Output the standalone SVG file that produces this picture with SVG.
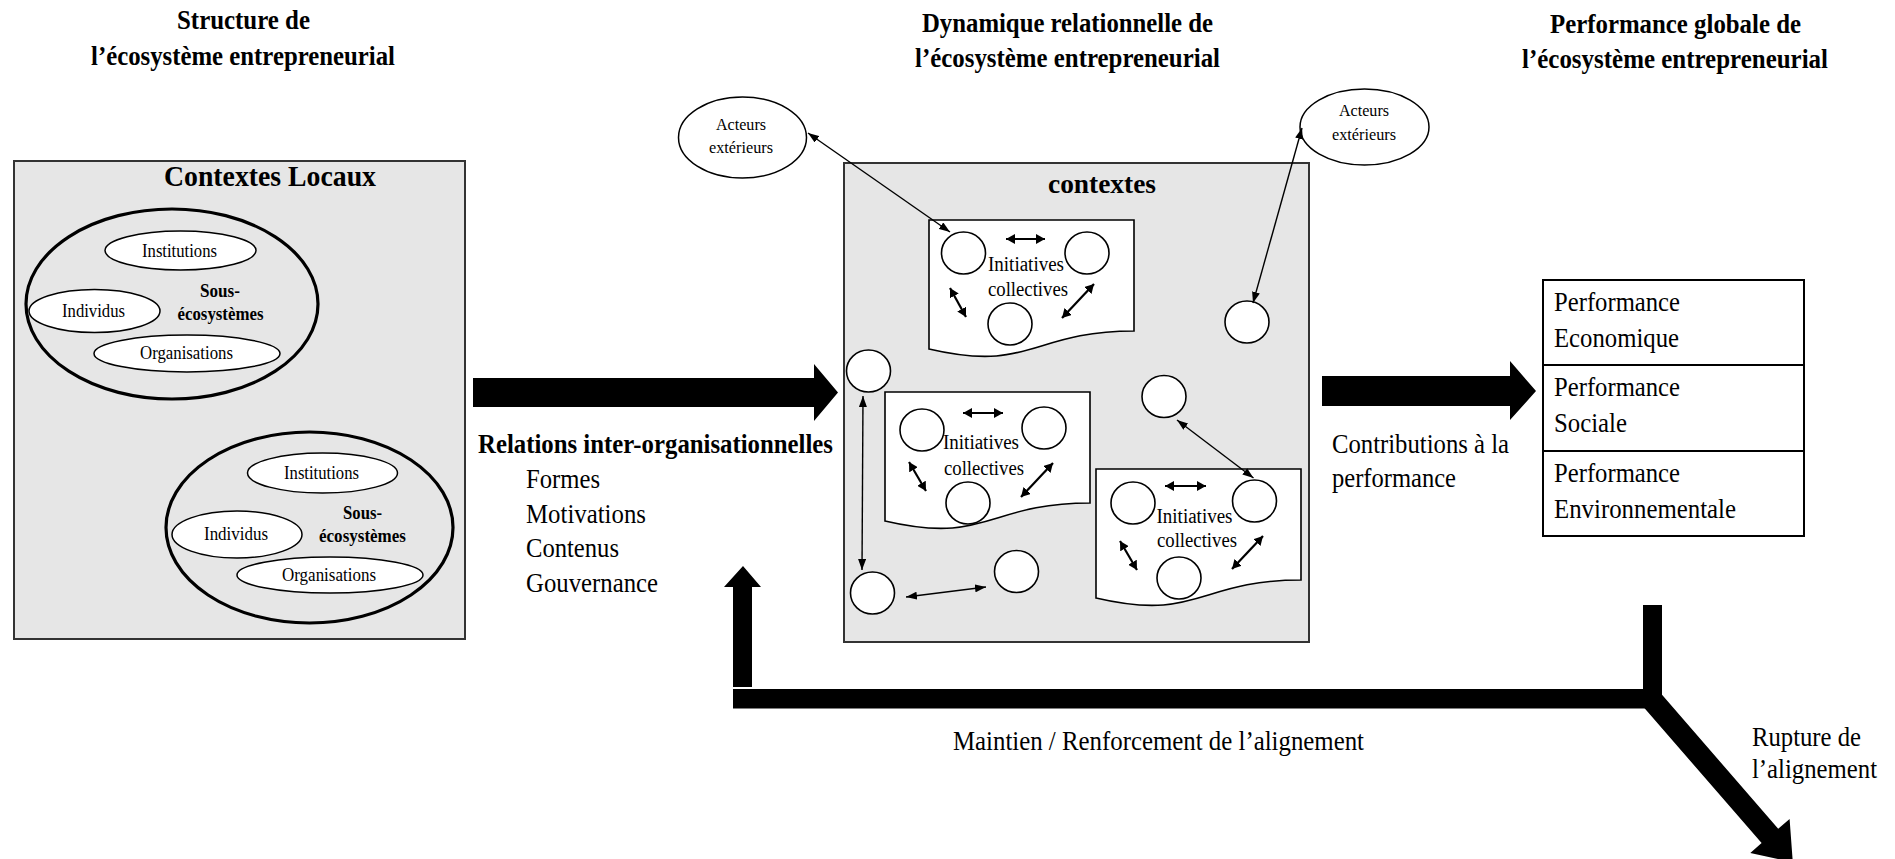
<svg xmlns="http://www.w3.org/2000/svg" width="1895" height="859" viewBox="0 0 1895 859">
<style>
text{font-family:"Liberation Serif","Times New Roman",serif;fill:#000}
.b{font-weight:bold}
.t{font-size:28px;font-weight:bold}
.r{font-size:27px}
.s{font-size:18px}
.a{font-size:16px}
.i{font-size:20px}
.box{fill:#e6e6e6;stroke:#333;stroke-width:2}
.big{fill:none;stroke:#000;stroke-width:3.2}
.el{fill:#fff;stroke:#000;stroke-width:1.5}
.c{fill:#fff;stroke:#000;stroke-width:1.6}
.doc{fill:#fff;stroke:#000;stroke-width:1.6}
.ln{stroke:#000;stroke-width:1.4;fill:none;marker-start:url(#ah);marker-end:url(#ah)}
.lb{stroke:#000;stroke-width:2.2;fill:none;marker-start:url(#ahb);marker-end:url(#ahb)}
.blk{fill:#000}
</style>
<defs>
<marker id="ah" markerUnits="userSpaceOnUse" viewBox="0 0 11 8" refX="11" refY="4" markerWidth="11" markerHeight="8" orient="auto-start-reverse"><path d="M0,0 L11,4 L0,8 Z" fill="#000"/></marker>
<marker id="ahb" markerUnits="userSpaceOnUse" viewBox="0 0 9 10" refX="9" refY="5" markerWidth="9" markerHeight="10" orient="auto-start-reverse"><path d="M0,0 L9,5 L0,10 Z" fill="#000"/></marker>
<path id="docshape" d="M0,0 H205 V111 C102.5,111 102.5,153 0,129 Z"/>
</defs>

<g id="titles">
<text class="t" x="243.5" y="29" text-anchor="middle" textLength="133" lengthAdjust="spacingAndGlyphs">Structure de</text>
<text class="t" x="243" y="65" text-anchor="middle" textLength="304" lengthAdjust="spacingAndGlyphs">l’écosystème entrepreneurial</text>
<text class="t" x="1067.5" y="32" text-anchor="middle" textLength="291" lengthAdjust="spacingAndGlyphs">Dynamique relationnelle de</text>
<text class="t" x="1067.5" y="67" text-anchor="middle" textLength="305" lengthAdjust="spacingAndGlyphs">l’écosystème entrepreneurial</text>
<text class="t" x="1675.5" y="33" text-anchor="middle" textLength="251" lengthAdjust="spacingAndGlyphs">Performance globale de</text>
<text class="t" x="1675" y="68" text-anchor="middle" textLength="306" lengthAdjust="spacingAndGlyphs">l’écosystème entrepreneurial</text>
</g>

<g id="contextes-locaux">
<rect class="box" x="14" y="161" width="451" height="478"/>
<text class="b" font-size="29" x="270" y="186" text-anchor="middle" textLength="212" lengthAdjust="spacingAndGlyphs">Contextes Locaux</text>
</g>

<g id="sous-ecosysteme-1">
<ellipse class="big" cx="172" cy="304" rx="146" ry="95"/>
<ellipse class="el" cx="180.5" cy="250.5" rx="75.5" ry="19.5"/>
<text class="s" x="179.5" y="257" text-anchor="middle" textLength="75" lengthAdjust="spacingAndGlyphs">Institutions</text>
<ellipse class="el" cx="94.5" cy="311" rx="65.5" ry="21.5"/>
<text class="s" x="93.5" y="317" text-anchor="middle" textLength="63" lengthAdjust="spacingAndGlyphs">Individus</text>
<ellipse class="el" cx="187" cy="353.5" rx="93" ry="18.5"/>
<text class="s" x="186.5" y="359" text-anchor="middle" textLength="93" lengthAdjust="spacingAndGlyphs">Organisations</text>
<text class="s b" x="220" y="297" text-anchor="middle" textLength="40" lengthAdjust="spacingAndGlyphs">Sous-</text>
<text class="s b" x="220.5" y="320" text-anchor="middle" textLength="86" lengthAdjust="spacingAndGlyphs">écosystèmes</text>
</g>

<g id="sous-ecosysteme-2">
<ellipse class="big" cx="309.5" cy="527.5" rx="143.5" ry="95.5"/>
<ellipse class="el" cx="322.5" cy="473" rx="75" ry="20"/>
<text class="s" x="321.5" y="479" text-anchor="middle" textLength="75" lengthAdjust="spacingAndGlyphs">Institutions</text>
<ellipse class="el" cx="237" cy="534.5" rx="65" ry="23.5"/>
<text class="s" x="236" y="540" text-anchor="middle" textLength="64" lengthAdjust="spacingAndGlyphs">Individus</text>
<ellipse class="el" cx="330" cy="575" rx="93" ry="18"/>
<text class="s" x="329" y="581" text-anchor="middle" textLength="94" lengthAdjust="spacingAndGlyphs">Organisations</text>
<text class="s b" x="362.5" y="519" text-anchor="middle" textLength="39" lengthAdjust="spacingAndGlyphs">Sous-</text>
<text class="s b" x="362.5" y="542" text-anchor="middle" textLength="87" lengthAdjust="spacingAndGlyphs">écosystèmes</text>
</g>

<g id="relations">
<text class="r b" x="478" y="453" textLength="355" lengthAdjust="spacingAndGlyphs">Relations inter-organisationnelles</text>
<text class="r" x="526" y="488" textLength="74" lengthAdjust="spacingAndGlyphs">Formes</text>
<text class="r" x="526" y="522.5" textLength="120" lengthAdjust="spacingAndGlyphs">Motivations</text>
<text class="r" x="526" y="557" textLength="93" lengthAdjust="spacingAndGlyphs">Contenus</text>
<text class="r" x="526" y="591.5" textLength="132" lengthAdjust="spacingAndGlyphs">Gouvernance</text>
</g>

<g id="contextes">
<rect class="box" x="844" y="163" width="465" height="479"/>
<text class="b" font-size="28" x="1102" y="193" text-anchor="middle" textLength="108" lengthAdjust="spacingAndGlyphs">contextes</text>
</g>

<g id="acteurs-gauche">
<ellipse class="el" cx="742.5" cy="137.5" rx="64" ry="40.5"/>
<text class="a" x="741" y="130" text-anchor="middle" textLength="50" lengthAdjust="spacingAndGlyphs">Acteurs</text>
<text class="a" x="741" y="153" text-anchor="middle" textLength="64" lengthAdjust="spacingAndGlyphs">extérieurs</text>
</g>
<g id="acteurs-droite">
<ellipse class="el" cx="1364.5" cy="127" rx="64.5" ry="38"/>
<text class="a" x="1364" y="116" text-anchor="middle" textLength="50" lengthAdjust="spacingAndGlyphs">Acteurs</text>
<text class="a" x="1364" y="140" text-anchor="middle" textLength="64" lengthAdjust="spacingAndGlyphs">extérieurs</text>
</g>

<g id="initiatives-1" transform="translate(929,220)">
<use href="#docshape" class="doc"/>
<ellipse class="c" cx="34.5" cy="33" rx="22" ry="21"/>
<ellipse class="c" cx="158" cy="33" rx="22" ry="21"/>
<ellipse class="c" cx="81" cy="104" rx="22" ry="21"/>
<path class="lb" d="M77,19 H116"/>
<path class="lb" d="M21,68 L37,97"/>
<path class="lb" d="M165,64 L133,98"/>
<text class="i" x="97" y="51" text-anchor="middle" textLength="76" lengthAdjust="spacingAndGlyphs">Initiatives</text>
<text class="i" x="99" y="76" text-anchor="middle" textLength="80" lengthAdjust="spacingAndGlyphs">collectives</text>
</g>

<g id="initiatives-2" transform="translate(885,392)">
<use href="#docshape" class="doc"/>
<ellipse class="c" cx="37" cy="38" rx="22" ry="21"/>
<ellipse class="c" cx="159" cy="36" rx="22" ry="21"/>
<ellipse class="c" cx="83" cy="111" rx="22" ry="21"/>
<path class="lb" d="M78,21 H118"/>
<path class="lb" d="M24,70 L41,99"/>
<path class="lb" d="M168,71 L136,105"/>
<text class="i" x="96" y="57" text-anchor="middle" textLength="76" lengthAdjust="spacingAndGlyphs">Initiatives</text>
<text class="i" x="99" y="83" text-anchor="middle" textLength="80" lengthAdjust="spacingAndGlyphs">collectives</text>
</g>

<g id="initiatives-3" transform="translate(1096,469)">
<use href="#docshape" class="doc"/>
<ellipse class="c" cx="37" cy="34" rx="22" ry="21"/>
<ellipse class="c" cx="158.5" cy="32" rx="22" ry="21"/>
<ellipse class="c" cx="83" cy="109" rx="22" ry="21"/>
<path class="lb" d="M69,17 H110"/>
<path class="lb" d="M24,72 L41,101"/>
<path class="lb" d="M167,67 L136,100"/>
<text class="i" x="98.5" y="54" text-anchor="middle" textLength="76" lengthAdjust="spacingAndGlyphs">Initiatives</text>
<text class="i" x="101" y="78" text-anchor="middle" textLength="80" lengthAdjust="spacingAndGlyphs">collectives</text>
</g>

<g id="acteurs-isoles">
<ellipse class="c" cx="868.5" cy="371" rx="22" ry="21"/>
<ellipse class="c" cx="872.5" cy="593" rx="22" ry="21"/>
<ellipse class="c" cx="1016.5" cy="571.5" rx="22" ry="21"/>
<ellipse class="c" cx="1164" cy="396.5" rx="22" ry="21"/>
<ellipse class="c" cx="1247" cy="322" rx="22" ry="21"/>
</g>

<g id="performance">
<rect x="1543" y="280" width="261" height="256" fill="#fff" stroke="#000" stroke-width="2"/>
<line x1="1543" y1="365" x2="1804" y2="365" stroke="#000" stroke-width="2"/>
<line x1="1543" y1="451" x2="1804" y2="451" stroke="#000" stroke-width="2"/>
<text class="r" x="1554" y="311" textLength="126" lengthAdjust="spacingAndGlyphs">Performance</text>
<text class="r" x="1554" y="347" textLength="125" lengthAdjust="spacingAndGlyphs">Economique</text>
<text class="r" x="1554" y="396" textLength="126" lengthAdjust="spacingAndGlyphs">Performance</text>
<text class="r" x="1554" y="432" textLength="73" lengthAdjust="spacingAndGlyphs">Sociale</text>
<text class="r" x="1554" y="482" textLength="126" lengthAdjust="spacingAndGlyphs">Performance</text>
<text class="r" x="1554" y="518" textLength="182" lengthAdjust="spacingAndGlyphs">Environnementale</text>
</g>

<g id="connecteurs">
<path class="ln" d="M808,133 L950,232"/>
<path class="ln" d="M1302,128 L1253,303"/>
<path class="ln" d="M863,396 L862,570"/>
<path class="ln" d="M906,597 L986,587"/>
<path class="ln" d="M1177,420 L1253.5,478"/>
<polygon class="blk" points="473,378 814,378 814,364 838,392.5 814,421 814,407 473,407"/>
<polygon class="blk" points="1322,376 1510,376 1510,361 1536,391 1510,420 1510,406 1322,406"/>
<polygon class="blk" points="733,687 733,587 724,587 743,566 761,587 752,587 752,687"/>
<rect class="blk" x="733" y="689" width="925" height="19.5"/>
<rect class="blk" x="1643" y="605" width="19" height="100"/>
<polygon class="blk" points="1660.3,692.8 1778.2,828.7 1789.6,818.9 1792.8,862.3 1750.3,852.9 1761.6,843.1 1643.7,707.2 1643,700"/>
</g>

<g id="labels">
<text class="r" x="1332" y="453" textLength="177" lengthAdjust="spacingAndGlyphs">Contributions à la</text>
<text class="r" x="1332" y="487" textLength="124" lengthAdjust="spacingAndGlyphs">performance</text>
<text class="r" x="953" y="750" textLength="411" lengthAdjust="spacingAndGlyphs">Maintien / Renforcement de l’alignement</text>
<text class="r" x="1752" y="746" textLength="109" lengthAdjust="spacingAndGlyphs">Rupture de</text>
<text class="r" x="1752" y="778" textLength="125" lengthAdjust="spacingAndGlyphs">l’alignement</text>
</g>
</svg>
